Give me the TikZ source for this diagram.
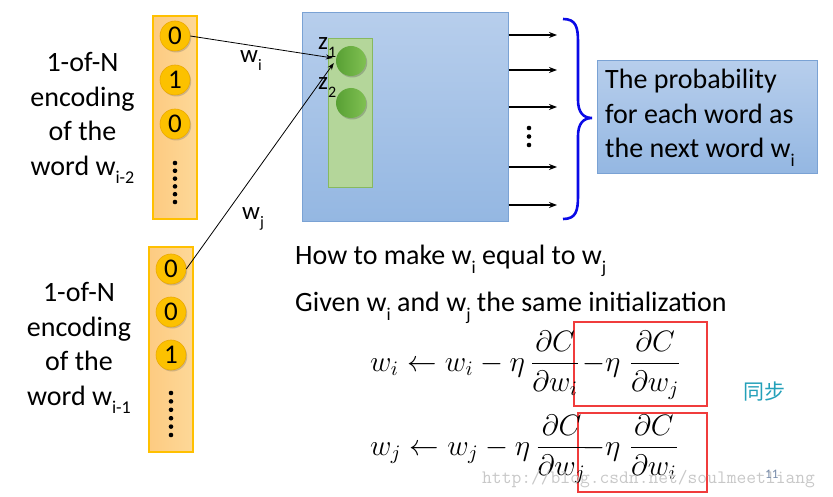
\documentclass[tikz,border=0pt]{standalone}
\usepackage{graphicx}
\usepackage{fontspec}
\setmainfont{Carlito}
\newfontfamily\cjkfont{Noto Sans CJK SC}
\usetikzlibrary{shadows,arrows.meta,calc}
\definecolor{colfill}{RGB}{253,216,152}
\definecolor{colborder}{RGB}{255,192,0}
\definecolor{bitfill}{RGB}{252,193,0}
\definecolor{bitrim}{RGB}{236,170,0}
\definecolor{bluetop}{RGB}{183,206,236}
\definecolor{bluebot}{RGB}{148,183,226}
\definecolor{blueborder}{RGB}{122,162,212}
\definecolor{greenfill}{RGB}{180,214,154}
\definecolor{greenborder}{RGB}{135,185,95}
\definecolor{nodeleft}{RGB}{88,160,52}
\definecolor{noderight}{RGB}{128,192,82}
\definecolor{bracecol}{RGB}{10,10,230}
\definecolor{boxred}{RGB}{240,60,60}
\definecolor{tealtext}{RGB}{35,160,185}
\definecolor{wmgray}{RGB}{200,200,200}
\definecolor{pagenum}{RGB}{120,140,170}
\newcommand\lsub[2][18]{\raisebox{-0.3em}{\fontsize{#1}{#1}\selectfont #2}}
\newcommand\bigmath[1]{\scalebox{2.05}{\fontsize{14}{17}\selectfont$\displaystyle #1$}}
\begin{document}
\begin{tikzpicture}[x=1pt,y=-1pt,
  column/.style={draw=colborder, line width=1.2pt, left color=colfill!85!orange, right color=colfill, minimum width=44pt, inner sep=0},
  bit/.style={circle, inner sep=0, minimum size=30pt, fill=bitfill, draw=bitrim, line width=0.6pt, font=\fontsize{27}{27}\selectfont,
    drop shadow={shadow xshift=1.2pt, shadow yshift=-1.5pt, opacity=0.3, fill=black!60}},
  hidden/.style={draw=blueborder, line width=1pt, top color=bluetop, bottom color=bluebot},
  layer/.style={draw=greenborder, line width=1pt, fill=greenfill, inner sep=0},
  neuron/.style={circle, inner sep=0, minimum size=30pt, left color=nodeleft, right color=noderight,
    drop shadow={shadow xshift=1.2pt, shadow yshift=-1.5pt, opacity=0.3, fill=black!70}},
  wire/.style={line width=0.8pt, -{Stealth[length=7pt,width=5pt]}},
  outarrow/.style={line width=1.6pt, -{Stealth[length=8pt,width=6pt]}},
  txt/.style={font=\fontsize{28}{34.5}\selectfont, inner sep=0},
  lbl/.style={font=\fontsize{25}{25}\selectfont, inner sep=0, anchor=base west},
  mathtxt/.style={inner sep=0, anchor=base west},
  redframe/.style={draw=boxred, line width=2.6pt, inner sep=0}]
\useasboundingbox (0,0) rectangle (833,497);
% input columns
\node[column, minimum height=203pt] (col1) at (175,117.5) {};
\node[column, minimum height=205pt] (col2) at (171,349.5) {};
\node[bit] (c1a) at (175,36) {0};
\node[bit] (c1b) at (175,80) {1};
\node[bit] (c1c) at (175,124) {0};
\node[bit] (c2a) at (171,269) {0};
\node[bit] (c2b) at (171,312) {0};
\node[bit] (c2c) at (171,355) {1};
\foreach \k in {0,...,5} {
  \fill (175,{163+\k*7.8}) circle (2.3);
  \fill (171,{393+\k*8.4}) circle (2.3);
  \fill (351,{133+\k*8.2}) circle (2.3);
}
% labels left
\node[txt, align=center] (lab1) at (82.5,118) {1-of-N\\encoding\\of the\\word w\lsub{i-2}};
\node[txt, align=center] (lab2) at (79,348) {1-of-N\\encoding\\of the\\word w\lsub{i-1}};
% hidden box
\node[hidden, minimum width=206pt, minimum height=209pt, inner sep=0] (hid) at (405,117.5) {};
\node[layer, minimum width=44pt, minimum height=149pt] (lay) at (350,113.5) {};
\node[neuron] (h1) at (351,61) {};
\node[neuron] (h2) at (351,103) {};
\node[lbl] (z1) at (318,50) {z\lsub[16]{1}};
\node[lbl] (z2) at (318,90) {z\lsub[16]{2}};
% wires
\draw[wire] (c1a.east) -- ($(h1.west)+(-3,-3)$);
\draw[wire] (c2a.east) -- ($(h1.west)+(-2,2)$);
\node[lbl] (lwi) at (240,63) {w\lsub[16]{i}};
\node[lbl] (lwj) at (242,220) {w\lsub[16]{j}};
% outputs
\foreach \y [count=\k] in {35,70,107,167,205} {
  \coordinate (o\k) at (557,\y);
  \draw[outarrow] (hid.east |- o\k) -- (o\k);
}
\fill (529,128) circle (2.3);
\fill (529,136.5) circle (2.3);
\fill (529,145) circle (2.3);
% brace
\draw[bracecol, line width=2.6pt] (563,19) .. controls (576,19) and (578,27) .. (578,42) -- (578,100)
  .. controls (578,112) and (583,118) .. (592,118) .. controls (583,118) and (578,124) .. (578,136)
  -- (578,196) .. controls (578,211) and (576,219) .. (563,219);
% probability box
\node[hidden, minimum width=220pt, minimum height=113pt] (prob) at (707,117.5) {};
\node[txt, text width=204pt, align=flush left, anchor=north west] (probtxt) at (605,69)
  {The probability\\for each word as\\the next word w\lsub{i}};
% questions
\node[txt, anchor=base west] (q1) at (295,265) {How to make w\lsub{i} equal to w\lsub{j}};
\node[txt, anchor=base west] (q2) at (295,312) {Given w\lsub{i} and w\lsub{j} the same initialization};
% equations
\node[redframe, minimum width=133pt, minimum height=84pt] (r1) at (640.5,364) {};
\node[redframe, minimum width=129pt, minimum height=79pt] (r2) at (642.5,452.5) {};
\node[mathtxt] (e1) at (370,371) {\bigmath{w_i \leftarrow w_i - \eta\,\frac{\partial C}{\partial w_i}}};
\node[mathtxt] (e1b) at (582,371) {\bigmath{-\eta\;\frac{\partial C}{\partial w_j}}};
\node[mathtxt] (e2) at (370,455) {\bigmath{w_j \leftarrow w_j - \eta\,\frac{\partial C}{\partial w_j}}};
\node[mathtxt] (e2b) at (582,455) {\bigmath{-\eta\;\frac{\partial C}{\partial w_i}}};
\node[font=\cjkfont\fontsize{21}{21}\selectfont, text=tealtext, inner sep=0] (sync) at (764,392) {同步};
% watermark and page number
\node[font=\ttfamily\fontsize{19}{19}\selectfont, text=wmgray, anchor=base west, inner sep=0] (wm) at (482,483) {http://blog.csdn.net/soulmeetliang};
\node[font=\fontsize{13}{13}\selectfont, text=pagenum, anchor=base west, inner sep=0] (pg) at (765,478) {11};
\end{tikzpicture}
\end{document}
